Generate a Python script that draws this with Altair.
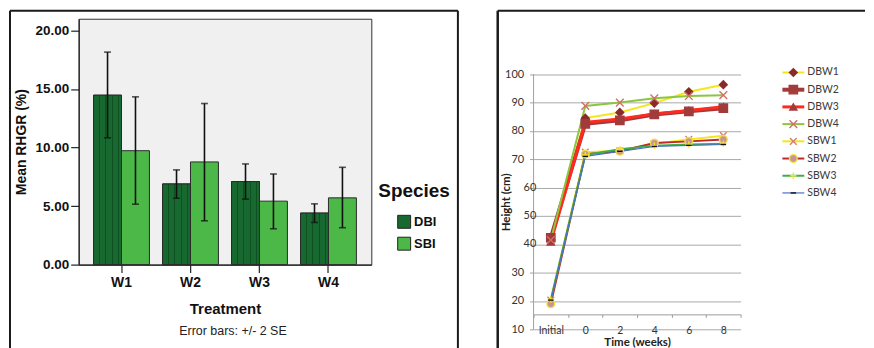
import altair as alt
import pandas as pd

# ---------------- data: left panel (bar chart) ----------------
treatments = ["W1", "W2", "W3", "W4"]
species = ["DBI", "SBI"]
dbi_mean = [14.47, 6.89, 7.09, 4.40]
dbi_low = [10.83, 5.67, 5.59, 3.60]
dbi_high = [18.15, 8.09, 8.60, 5.19]
sbi_mean = [9.73, 8.77, 5.42, 5.70]
sbi_low = [5.16, 3.74, 3.06, 3.15]
sbi_high = [14.33, 13.76, 7.74, 8.31]
left_y_ticks = [0, 5, 10, 15, 20]

# ---------------- data: right panel (line chart) ----------------
time_labels = ["Initial", "0", "2", "4", "6", "8"]
series_names = ["DBW1", "DBW2", "DBW3", "DBW4", "SBW1", "SBW2", "SBW3", "SBW4"]
dbw1 = [41.5, 84.5, 86.5, 89.8, 93.8, 96.3]
dbw2 = [42.3, 82.5, 83.7, 85.8, 86.9, 88.0]
dbw3 = [40.8, 83.0, 84.2, 86.0, 87.2, 88.5]
dbw4 = [41.5, 88.8, 90.0, 91.5, 92.3, 92.6]
sbw1 = [20.3, 72.5, 73.0, 75.5, 77.0, 78.3]
sbw2 = [19.0, 71.8, 72.8, 75.7, 76.3, 77.0]
sbw3 = [20.5, 71.5, 73.5, 74.8, 75.2, 75.5]
sbw4 = [20.3, 71.0, 72.8, 74.5, 74.9, 75.2]
right_y_ticks = [10, 20, 30, 40, 50, 60, 70, 80, 90, 100]
shifted_y_ticks = [40, 50, 60]   # labels pushed right of the axis title in the original

# ---------------- styles ----------------
line_colors = ["#f5e61a", "#a33a3a", "#ff2a1f", "#8cc63f", "#f5e61a", "#c0272d", "#3fae49", "#4a6fc7"]
line_widths = [2, 4, 3, 2, 2, 2, 2, 1.2]
X_PATH = "M-1,-1L1,1M-1,1L1,-1"
PLUS_PATH = "M-1,0L1,0M0,-1L0,1"
DASH_PATH = "M-1,0L1,0"
marker_shapes = ["diamond", "square", "triangle-up", X_PATH, X_PATH, "circle", PLUS_PATH, DASH_PATH]
marker_fills = ["#8b2a2a", "#a23b3b", "#a23b3b", "transparent", "transparent", "#c8949a", "transparent", "transparent"]
marker_strokes = ["#8b2a2a", "#a23b3b", "#a23b3b", "#d0706a", "#d0806a", "#f0e040", "#f2e61a", "#111111"]
marker_sizes = [60, 70, 50, 60, 45, 60, 40, 30]

font_l = "Liberation Sans"
font_r = "Lato"

# ---------------- left chart ----------------
rows = []
for i, t in enumerate(treatments):
    rows.append(dict(treatment=t, species="DBI", mean=dbi_mean[i], low=dbi_low[i], high=dbi_high[i]))
    rows.append(dict(treatment=t, species="SBI", mean=sbi_mean[i], low=sbi_low[i], high=sbi_high[i]))
bar_df = pd.DataFrame(rows)
dummy = pd.DataFrame({"k": [0]})

LW, LH = 294, 247

x_l = alt.X("treatment:N", sort=treatments,
            scale=alt.Scale(paddingInner=0.19, paddingOuter=0.216),
            axis=alt.Axis(title="Treatment", labelAngle=0, labelFont=font_l, labelFontSize=14,
                          labelFontWeight="bold", labelColor="#111", labelPadding=3, tickSize=8,
                          tickColor="#222", tickWidth=1.2, domainColor="#222", domainWidth=1.2,
                          titleFont=font_l, titleFontSize=15, titleFontWeight="bold",
                          titleColor="#111", titlePadding=12))
xo = alt.XOffset("species:N", sort=species,
                 scale=alt.Scale(domain=species, paddingInner=0, paddingOuter=0))
y_axis_l = alt.Axis(title="Mean RHGR (%)", values=left_y_ticks, format=".2f", grid=False,
                    labelFont=font_l, labelFontSize=13.5, labelFontWeight="bold", labelColor="#111",
                    labelPadding=2, tickSize=8, tickColor="#222", tickWidth=1.2,
                    domainColor="#222", domainWidth=1.2, titleFont=font_l, titleFontSize=14,
                    titleFontWeight="bold", titleColor="#111", titlePadding=7)
y_scale_l = alt.Scale(domain=[0, 21], nice=False)

base_dark = "#17692f"
stripe = "#0e5022"
stops = [{"offset": 0, "color": base_dark}]
for c in [0.2, 0.43, 0.67, 0.9]:
    stops += [{"offset": c - 0.017, "color": base_dark}, {"offset": c - 0.017, "color": stripe},
              {"offset": c + 0.017, "color": stripe}, {"offset": c + 0.017, "color": base_dark}]
stops.append({"offset": 1, "color": base_dark})
dbi_gradient = {"gradient": "linear", "x1": 0, "x2": 1, "y1": 0, "y2": 0, "stops": stops}

bars = alt.Chart(bar_df).mark_bar(stroke="#2a2a2a", strokeWidth=1, opacity=1).encode(
    x=x_l, xOffset=xo,
    y=alt.Y("mean:Q", scale=y_scale_l, axis=y_axis_l),
    color=alt.Color("species:N", sort=species,
                    scale=alt.Scale(domain=species, range=[base_dark, "#4cb848"]),
                    legend=alt.Legend(title="Species", orient="none", legendX=301, legendY=164,
                                      titleFont=font_l, titleFontSize=19, titleFontWeight="bold",
                                      titleColor="#111", titlePadding=14, labelFont=font_l,
                                      labelFontSize=13, labelFontWeight="bold", labelColor="#111",
                                      symbolType="square", symbolSize=169,
                                      symbolStrokeColor="#222", symbolStrokeWidth=1,
                                      symbolOffset=19, rowPadding=4, labelOffset=3, padding=0)),
)
pattern = alt.Chart(bar_df).transform_filter(alt.datum.species == "DBI").mark_bar(
    fill=dbi_gradient, stroke="#2a2a2a", strokeWidth=1, opacity=1).encode(
    x=x_l, xOffset=xo, y=alt.Y("mean:Q", scale=y_scale_l, axis=y_axis_l))
err = alt.Chart(bar_df).mark_rule(color="#111", strokeWidth=1.6).encode(
    x=x_l, xOffset=xo, y=alt.Y("low:Q", scale=y_scale_l, axis=y_axis_l), y2="high:Q")
cap_lo = alt.Chart(bar_df).mark_tick(color="#111", thickness=1.6, size=7).encode(
    x=x_l, xOffset=xo, y=alt.Y("low:Q", scale=y_scale_l, axis=y_axis_l))
cap_hi = alt.Chart(bar_df).mark_tick(color="#111", thickness=1.6, size=7).encode(
    x=x_l, xOffset=xo, y=alt.Y("high:Q", scale=y_scale_l, axis=y_axis_l))

frame_kw = dict(color="#1a1a1a", strokeWidth=2)
lf_top = alt.Chart(dummy).mark_rule(**frame_kw).encode(x=alt.value(-69), x2=alt.value(381), y=alt.value(-8))
lf_left = alt.Chart(dummy).mark_rule(**frame_kw).encode(x=alt.value(-69), y=alt.value(-8), y2=alt.value(331))
lf_right = alt.Chart(dummy).mark_rule(**frame_kw).encode(x=alt.value(381), y=alt.value(-8), y2=alt.value(331))
caption = alt.Chart(dummy).mark_text(text="Error bars: +/- 2 SE", font=font_l, fontSize=12.5,
                                     color="#222").encode(x=alt.value(155), y=alt.value(314))

left = alt.layer(bars, pattern, err, cap_lo, cap_hi, lf_top, lf_left, lf_right, caption).properties(
    width=LW, height=LH, view=alt.ViewBackground(fill="#f0f0f0", stroke="#333", strokeWidth=1))

# ---------------- right chart ----------------
long_rows = []
for name, vals in zip(series_names, [dbw1, dbw2, dbw3, dbw4, sbw1, sbw2, sbw3, sbw4]):
    for t, v in zip(time_labels, vals):
        long_rows.append(dict(series=name, time=t, value=v))
long_df = pd.DataFrame(long_rows)
leg_df = pd.DataFrame({"series": series_names})
axis_span_df = pd.DataFrame({"lo": [right_y_ticks[0]], "hi": [right_y_ticks[-1]]})
shifted_df = pd.DataFrame({"tick": shifted_y_ticks})

# plot area shares its top with the left panel; the value axis stops at 100
RW, RH = 208, 312
Y_TOP = 119.56
x_r = alt.X("time:N", sort=time_labels,
            scale=alt.Scale(type="band", paddingInner=0, paddingOuter=0),
            axis=alt.Axis(title="Time (weeks)", labelAngle=0, offset=-15, tickBand="extent",
                          tickSize=3, tickColor="#9a9a9a", domainColor="#9a9a9a",
                          labelFont=font_r, labelFontSize=10.5, labelColor="#333", labelPadding=8,
                          titleFont=font_r, titleFontSize=11.5, titleFontWeight="bold",
                          titleColor="#222", titlePadding=1))
hide_expr = "datum.value >= %d && datum.value <= %d ? '' : datum.label" % (shifted_y_ticks[0], shifted_y_ticks[-1])
y_scale_r = alt.Scale(domain=[10, Y_TOP], nice=False, zero=False)
y_axis_r = alt.Axis(values=right_y_ticks, grid=True, gridColor="#a8a8a8", gridWidth=1,
                    domain=False, tickColor="#a0a0a0", tickSize=4, labelOverlap=False,
                    labelExpr=hide_expr,
                    labelFont=font_r, labelFontSize=11, labelColor="#333", labelPadding=6,
                    title="Height (cm)", titleFont=font_r,
                    titleFontSize=11.5, titleFontWeight="bold", titleColor="#222",
                    titlePadding=-7, titleY=184)
y_r = alt.Y("value:Q", scale=y_scale_r, axis=y_axis_r)

color_enc = alt.Color("series:N", scale=alt.Scale(domain=series_names, range=line_colors), legend=None)
sw_enc = alt.StrokeWidth("series:N", scale=alt.Scale(type="ordinal", domain=series_names, range=line_widths), legend=None)
shape_enc = alt.Shape("series:N", scale=alt.Scale(domain=series_names, range=marker_shapes), legend=None)
fill_enc = alt.Fill("series:N", scale=alt.Scale(domain=series_names, range=marker_fills), legend=None)
stroke_enc = alt.Stroke("series:N", scale=alt.Scale(domain=series_names, range=marker_strokes), legend=None)
size_enc = alt.Size("series:N", scale=alt.Scale(type="ordinal", domain=series_names, range=marker_sizes), legend=None)

lines = alt.Chart(long_df).mark_line().encode(x=x_r, y=y_r, color=color_enc, strokeWidth=sw_enc)
points = alt.Chart(long_df).mark_point(opacity=1, strokeWidth=1.4).encode(
    x=x_r, y=y_r, shape=shape_enc, fill=fill_enc, stroke=stroke_enc, size=size_enc)
y_line = alt.Chart(axis_span_df).mark_rule(color="#a0a0a0", strokeWidth=1).encode(
    x=alt.value(0), y=alt.Y("lo:Q", scale=y_scale_r, axis=y_axis_r), y2="hi:Q")
shifted_labels = alt.Chart(shifted_df).mark_text(
    align="left", baseline="middle", font=font_r, fontSize=11, color="#333").encode(
    x=alt.value(-10), y=alt.Y("tick:Q", scale=y_scale_r, axis=y_axis_r), text="tick:Q")

rf_left = alt.Chart(dummy).mark_rule(color="#1a1a1a", strokeWidth=2.5).encode(
    x=alt.value(-36), y=alt.value(-8), y2=alt.value(331))
rf_top = alt.Chart(dummy).mark_rule(color="#1a1a1a", strokeWidth=2).encode(
    x=alt.value(-36), x2=alt.value(333), y=alt.value(-8))

y_leg = alt.Y("series:N", sort=series_names,
              scale=alt.Scale(type="point", domain=series_names, range=[54, 175], padding=0), axis=None)
leg_rule = alt.Chart(leg_df).mark_rule().encode(x=alt.value(250), x2=alt.value(272), y=y_leg,
                                                color=color_enc, strokeWidth=sw_enc)
leg_pt = alt.Chart(leg_df).mark_point(opacity=1, strokeWidth=1.4).encode(
    x=alt.value(261), y=y_leg, shape=shape_enc, fill=fill_enc, stroke=stroke_enc, size=size_enc)
leg_txt = alt.Chart(leg_df).mark_text(align="left", baseline="middle", font=font_r, fontSize=10.5,
                                      color="#3a3a3a").encode(x=alt.value(275), y=y_leg, text="series:N")

right = alt.layer(alt.layer(lines, points, y_line, shifted_labels, rf_left, rf_top),
                  alt.layer(leg_rule, leg_pt, leg_txt)).resolve_scale(y="independent").properties(
    width=RW, height=RH)

chart = (alt.hconcat(left, right, spacing=36)
         .resolve_scale(color="independent")
         .properties(padding=0)
         .configure_view(strokeWidth=0)
         .configure_axisY(labelOverlap=False))

chart.save("out.html", embed_options={"renderer": "svg", "actions": False})
